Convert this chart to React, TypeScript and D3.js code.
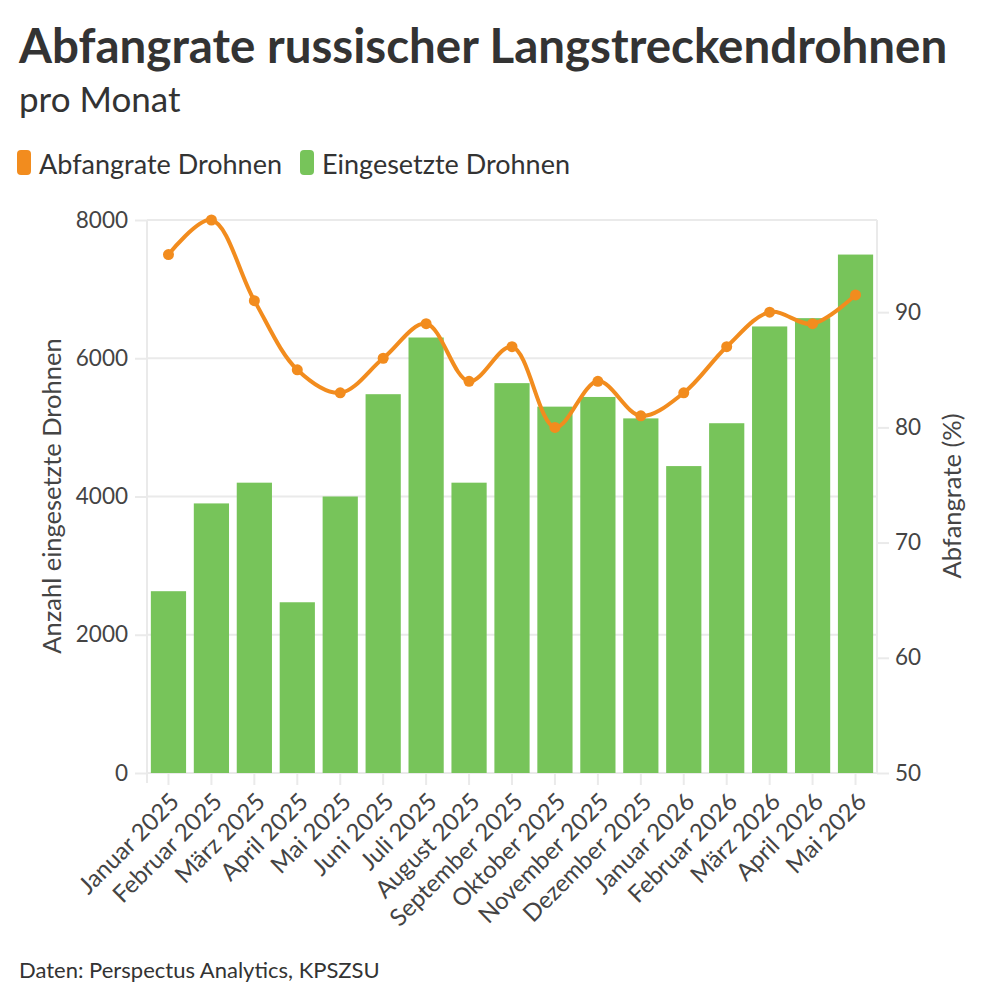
import { useEffect, useRef } from "react"
import * as d3 from "d3"

const months = [
  "Januar 2025", "Februar 2025", "März 2025", "April 2025", "Mai 2025", "Juni 2025",
  "Juli 2025", "August 2025", "September 2025", "Oktober 2025", "November 2025",
  "Dezember 2025", "Januar 2026", "Februar 2026", "März 2026", "April 2026", "Mai 2026",
]
const drones = [2630, 3900, 4200, 2470, 4000, 5480, 6300, 4200, 5640, 5300, 5440, 5130, 4440, 5060, 6460, 6580, 7500]
const rate = [95, 98, 91, 85, 83, 86, 89, 84, 87, 80, 84, 81, 83, 87, 90, 89, 91.5]
const leftTicks = [0, 2000, 4000, 6000, 8000]
const rightTicks = [50, 60, 70, 80, 90]

const FONT = "Lato, 'Noto Sans', sans-serif"
const GREEN = "#77c45a"
const ORANGE = "#f28c1e"
const TEXT = "#333333"
const GRID = "#eaeaea"

export default function App() {
  const svgRef = useRef<SVGSVGElement>(null)

  useEffect(() => {
    if (!svgRef.current) return
    const root = d3.select(svgRef.current)
    root.selectAll("*").remove()

    const left = 147, right = 877, top = 220, bottom = 773

    const x = d3.scaleBand().domain(months).range([left, right]).paddingInner(0.18).paddingOuter(0.09)
    const yL = d3.scaleLinear().domain([0, 8000]).range([bottom, top])
    const yR = d3.scaleLinear().domain([50, 98]).range([bottom, top])

    // Title etc.
    root.append("text").attr("x", 19).attr("y", 63).attr("font-size", 47.5).attr("font-weight", 700)
      .attr("fill", TEXT).attr("font-family", FONT).text("Abfangrate russischer Langstreckendrohnen")
    root.append("text").attr("x", 19).attr("y", 112).attr("font-size", 35)
      .attr("fill", TEXT).attr("font-family", FONT).text("pro Monat")

    // Legend
    const legend = [
      { label: "Abfangrate Drohnen", color: ORANGE, x: 17 },
      { label: "Eingesetzte Drohnen", color: GREEN, x: 300 },
    ]
    legend.forEach((l) => {
      root.append("rect").attr("x", l.x).attr("y", 150).attr("width", 14).attr("height", 25).attr("rx", 4).attr("fill", l.color)
      root.append("text").attr("x", l.x + 22).attr("y", 174).attr("font-size", 27).attr("fill", TEXT)
        .attr("font-family", FONT).text(l.label)
    })

    // Grid lines
    root.append("g").selectAll("line").data(leftTicks).enter().append("line")
      .attr("x1", left).attr("x2", right).attr("y1", (d) => yL(d)).attr("y2", (d) => yL(d))
      .attr("stroke", GRID).attr("stroke-width", 2)
    root.append("line").attr("x1", left).attr("x2", left).attr("y1", top).attr("y2", bottom + 10)
      .attr("stroke", GRID).attr("stroke-width", 2)
    root.append("line").attr("x1", right).attr("x2", right).attr("y1", top).attr("y2", bottom)
      .attr("stroke", GRID).attr("stroke-width", 2)

    // Left axis
    const gL = root.append("g").attr("transform", `translate(${left},0)`)
      .call(d3.axisLeft(yL).tickValues(leftTicks).tickSize(12).tickPadding(7).tickFormat((d) => String(d)))
    gL.select(".domain").remove()
    gL.selectAll("line").attr("stroke", GRID).attr("stroke-width", 2)
    gL.selectAll("text").attr("font-size", 22.5).attr("fill", "#444").attr("font-family", FONT)

    // Right axis
    const gR = root.append("g").attr("transform", `translate(${right},0)`)
      .call(d3.axisRight(yR).tickValues(rightTicks).tickSize(12).tickPadding(6))
    gR.select(".domain").remove()
    gR.selectAll("line").attr("stroke", GRID).attr("stroke-width", 2)
    gR.selectAll("text").attr("font-size", 22.5).attr("fill", "#444").attr("font-family", FONT)

    // Bottom axis
    const gB = root.append("g").attr("transform", `translate(0,${bottom})`)
      .call(d3.axisBottom(x).tickSize(12).tickPadding(4))
    gB.select(".domain").remove()
    gB.selectAll("line").attr("stroke", GRID).attr("stroke-width", 2)
    gB.selectAll("text").attr("font-size", 24).attr("fill", "#444").attr("font-family", FONT)
      .attr("text-anchor", "end").attr("dy", "0.35em")
      .attr("transform", "translate(-5,13) rotate(-45)")

    // Axis titles
    root.append("text").attr("transform", `translate(61,496) rotate(-90)`).attr("text-anchor", "middle")
      .attr("font-size", 25.5).attr("fill", "#444").attr("font-family", FONT).text("Anzahl eingesetzte Drohnen")
    root.append("text").attr("transform", `translate(961,496) rotate(-90)`).attr("text-anchor", "middle")
      .attr("font-size", 25.5).attr("fill", "#444").attr("font-family", FONT).text("Abfangrate (%)")

    // Bars
    root.append("g").selectAll("rect").data(drones).enter().append("rect")
      .attr("x", (_, i) => x(months[i])!)
      .attr("y", (d) => yL(d))
      .attr("width", x.bandwidth())
      .attr("height", (d) => bottom - yL(d))
      .attr("fill", GREEN)

    // Line
    const cx = (i: number) => x(months[i])! + x.bandwidth() / 2
    const line = d3.line<number>().x((_, i) => cx(i)).y((d) => yR(d)).curve(d3.curveCatmullRom.alpha(0.5))
    root.append("path").datum(rate).attr("d", line).attr("fill", "none").attr("stroke", ORANGE).attr("stroke-width", 4)
    root.append("g").selectAll("circle").data(rate).enter().append("circle")
      .attr("cx", (_, i) => cx(i)).attr("cy", (d) => yR(d)).attr("r", 5.5).attr("fill", ORANGE)

    // Source
    root.append("text").attr("x", 19).attr("y", 978).attr("font-size", 22).attr("fill", TEXT)
      .attr("font-family", FONT).text("Daten: Perspectus Analytics, KPSZSU")
  }, [])

  return (
    <svg ref={svgRef} width={1000} height={1000}
      style={{ position: "absolute", left: 0, top: 0, background: "#fff" }} />
  )
}
